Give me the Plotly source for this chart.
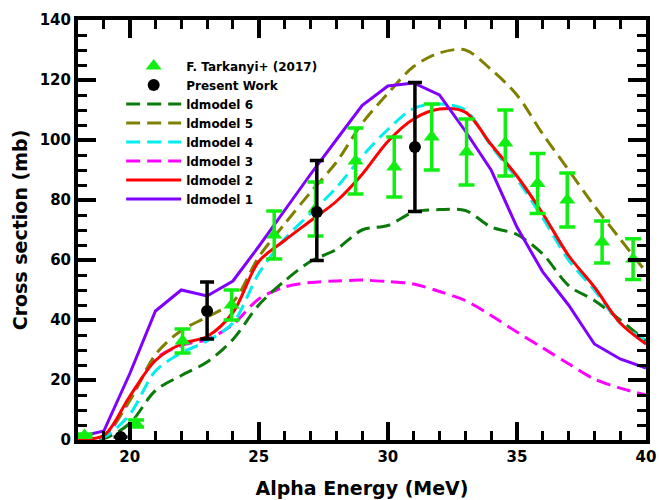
import plotly.graph_objects as go

energy = [18, 19, 20, 21, 22, 23, 24, 25, 26, 27, 28, 29, 30, 31, 32, 33, 34, 35, 36, 37, 38, 39, 40]

ldmodel1 = [1.0, 3.0, 22.0, 43.0, 50.0, 48.0, 53.0, 64.5, 76.5, 88.5, 100.0, 111.5, 118.0, 119.0, 115.0, 103.0, 90.0, 71.0, 56.0, 45.0, 32.0, 27.0, 24.0]
ldmodel2 = [0.3, 1.5, 14.5, 26.5, 32.0, 34.5, 42.5, 59.5, 66.5, 73.0, 79.5, 88.5, 99.5, 107.0, 110.3, 109.3, 98.5, 88.0, 75.5, 61.5, 51.0, 39.0, 32.0]
ldmodel3 = [0.0, 1.0, 13.5, 27.0, 31.5, 33.5, 38.5, 47.0, 51.0, 52.5, 53.0, 53.3, 52.8, 52.0, 49.5, 46.5, 41.5, 36.0, 30.7, 25.4, 20.3, 17.3, 15.0]
ldmodel4 = [0.0, 1.0, 8.5, 23.0, 29.0, 33.0, 39.0, 55.5, 67.0, 75.5, 84.0, 94.5, 103.5, 110.5, 112.0, 110.0, 98.0, 87.0, 74.0, 60.0, 50.0, 39.0, 33.0]
ldmodel5 = [0.0, 1.5, 13.0, 28.5, 36.5, 41.0, 46.0, 61.0, 72.0, 82.5, 92.5, 105.5, 115.5, 124.5, 129.0, 130.0, 123.5, 115.0, 102.0, 90.0, 78.0, 67.0, 56.0]
ldmodel6 = [0.0, 0.5, 5.5, 16.5, 21.5, 26.0, 33.5, 45.0, 53.0, 59.5, 63.5, 70.0, 71.5, 76.0, 76.8, 76.5, 71.0, 68.5, 62.0, 51.5, 46.5, 40.0, 33.0]

tark_e = [18.25, 20.25, 22.05, 23.95, 25.6, 27.2, 28.75, 30.25, 31.7, 33.05, 34.55, 35.8, 36.95, 38.3, 39.5]
tark_cs = [1.5, 5.5, 33.0, 45.0, 68.3, 77.0, 93.0, 91.0, 101.0, 96.0, 99.0, 85.5, 80.0, 66.0, 60.3]
tark_err = [0.5, 1.2, 4.0, 5.0, 8.0, 9.0, 11.0, 10.0, 11.0, 11.0, 11.0, 10.0, 9.0, 7.0, 6.8]

pw_e = [19.65, 23.0, 27.25, 31.05]
pw_cs = [1.0, 43.0, 76.0, 97.7]
pw_err_plus = [0.0, 9.7, 17.2, 21.5]
pw_err_minus = [0.0, 9.3, 16.2, 21.5]

x_ticks = [20, 25, 30, 35, 40]
y_ticks = [0, 20, 40, 60, 80, 100, 120, 140]

FONT = "DejaVu Sans"

fig = go.Figure()

models = [
    ("ldmodel 3", ldmodel3, "#ff00ff", "14px,7px", "spline", 8),
    ("ldmodel 6", ldmodel6, "#0a7a0a", "14px,7px", "spline", 5),
    ("ldmodel 5", ldmodel5, "#808000", "14px,7px", "spline", 6),
    ("ldmodel 4", ldmodel4, "#00eeee", "14px,7px", "spline", 7),
    ("ldmodel 2", ldmodel2, "#ff0000", "solid", "spline", 9),
    ("ldmodel 1", ldmodel1, "#8000ff", "solid", "linear", 10),
]
for name, ys, col, dash, shape, rank in models:
    ln = dict(color=col, width=3, dash=dash, shape=shape)
    if shape == "spline":
        ln["smoothing"] = 0.9
    fig.add_trace(go.Scatter(x=energy, y=ys, mode="lines", name=name, line=ln,
                             legendrank=rank))

fig.add_trace(go.Scatter(
    x=tark_e, y=tark_cs, mode="markers", name="F. Tarkanyi+ (2017)",
    marker=dict(symbol="triangle-up", size=14, color="#11ee11"),
    error_y=dict(type="data", array=tark_err, color="#11ee11", thickness=3.5, width=8),
    legendrank=3))

fig.add_trace(go.Scatter(
    x=pw_e, y=pw_cs, mode="markers", name="Present Work",
    marker=dict(symbol="circle", size=12, color="black"),
    error_y=dict(type="data", symmetric=False, array=pw_err_plus, arrayminus=pw_err_minus,
                 color="black", thickness=3.5, width=7),
    legendrank=4))

axis_common = dict(
    showline=True, linecolor="black", linewidth=4, mirror="ticks",
    ticks="inside", ticklen=18, tickwidth=4, tickcolor="black",
    showgrid=False, zeroline=False, automargin=False,
    tickfont=dict(family=FONT, size=15, color="black", weight="bold"),
)

fig.update_xaxes(
    range=[18, 40], tickvals=x_ticks,
    minor=dict(dtick=1, tick0=18, ticklen=9, tickwidth=3, ticks="inside", tickcolor="black", showgrid=False),
    title=dict(text="Alpha Energy (MeV)", font=dict(family=FONT, size=19, color="black", weight="bold"), standoff=18),
    **axis_common)
fig.update_yaxes(
    range=[0, 140], tickvals=y_ticks,
    minor=dict(dtick=5, tick0=0, ticklen=9, tickwidth=3, ticks="inside", tickcolor="black", showgrid=False),
    title=dict(text="Cross section (mb)", font=dict(family=FONT, size=19, color="black", weight="bold"), standoff=8),
    **axis_common)

fig.update_layout(
    width=659, height=500,
    margin=dict(l=78, r=13, t=20, b=60, autoexpand=False),
    plot_bgcolor="white", paper_bgcolor="white",
    showlegend=True,
    legend=dict(x=0.076, y=0.925, xanchor="left", yanchor="top",
                bgcolor="rgba(0,0,0,0)", borderwidth=0,
                font=dict(family=FONT, size=12, color="black", weight="bold"),
                itemwidth=55, tracegroupgap=0),
)

fig.write_html("out.html")
